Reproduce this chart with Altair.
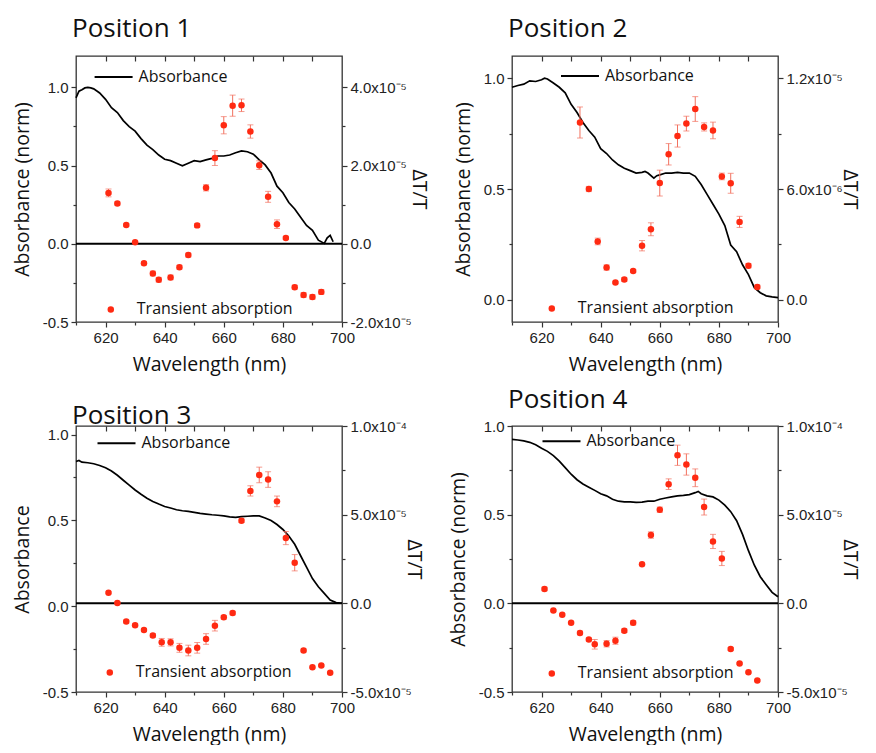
import json
import altair as alt
import pandas as pd

# ---------------- data ----------------
titles = ["Position 1", "Position 2", "Position 3", "Position 4"]
left_titles = ["Absorbance (norm)", "Absorbance (norm)", "Absorbance", "Absorbance (norm)"]
abs_name = "Absorbance"
ta_name = "Transient absorption"

# Absorbance curves (normalised)
p1_abs_wl = [610, 611, 612, 613, 614, 615, 616, 618, 620, 622, 624, 626, 628, 630, 632, 634, 636, 638, 640,
             642, 644, 646, 648, 650, 652, 654, 656, 658, 660, 662, 664, 666, 668, 670, 672, 674, 676, 678,
             680, 682, 684, 686, 688, 690, 692, 694, 695, 696, 697]
p1_abs = [0.933, 0.975, 0.985, 0.996, 1.0, 0.996, 0.99, 0.964, 0.923, 0.87, 0.839, 0.787, 0.749, 0.72, 0.672,
          0.63, 0.602, 0.567, 0.54, 0.531, 0.515, 0.498, 0.515, 0.531, 0.525, 0.536, 0.546, 0.561, 0.561,
          0.567, 0.582, 0.594, 0.588, 0.573, 0.536, 0.504, 0.452, 0.368, 0.326, 0.264, 0.222, 0.169, 0.117,
          0.086, 0.023, 0.002, 0.038, 0.054, 0.013]

p2_abs_wl = [610, 612, 614, 616, 618, 620, 621, 622, 624, 626, 628, 630, 632, 634, 636, 638, 640, 642, 644,
             646, 648, 650, 652, 654, 655, 656, 658, 659, 660, 662, 664, 666, 668, 670, 672, 674, 676, 678,
             680, 682, 684, 686, 688, 690, 692, 694, 696, 698, 700]
p2_abs = [0.959, 0.967, 0.973, 0.988, 0.985, 0.993, 1.0, 0.996, 0.978, 0.959, 0.934, 0.882, 0.845, 0.80,
          0.764, 0.734, 0.682, 0.66, 0.631, 0.609, 0.594, 0.583, 0.572, 0.575, 0.579, 0.572, 0.549, 0.56,
          0.564, 0.572, 0.572, 0.575, 0.572, 0.572, 0.557, 0.52, 0.476, 0.431, 0.387, 0.335, 0.247, 0.217,
          0.158, 0.114, 0.055, 0.032, 0.018, 0.013, 0.01]

p3_abs_wl = [610, 611, 612, 614, 616, 618, 620, 622, 624, 626, 628, 630, 632, 634, 636, 638, 640, 642, 644,
             646, 648, 650, 652, 654, 656, 658, 660, 662, 664, 666, 668, 670, 672, 674, 676, 678, 680, 682,
             684, 686, 688, 690, 692, 694, 696, 698, 700]
p3_abs = [0.843, 0.849, 0.839, 0.836, 0.830, 0.82, 0.807, 0.788, 0.763, 0.734, 0.706, 0.677, 0.652, 0.629,
          0.61, 0.595, 0.581, 0.572, 0.562, 0.556, 0.553, 0.547, 0.541, 0.537, 0.533, 0.53, 0.526, 0.52,
          0.518, 0.522, 0.524, 0.526, 0.526, 0.514, 0.499, 0.476, 0.447, 0.409, 0.361, 0.294, 0.228, 0.161,
          0.113, 0.075, 0.036, 0.021, 0.017]

p4_abs_wl = [610, 612, 614, 616, 618, 620, 622, 624, 626, 628, 630, 632, 634, 636, 638, 640, 642, 644, 646,
             648, 650, 652, 654, 656, 658, 660, 662, 664, 666, 668, 670, 672, 673, 674, 676, 678, 680, 682,
             684, 686, 688, 690, 692, 694, 696, 698, 700]
p4_abs = [0.925, 0.921, 0.916, 0.908, 0.894, 0.875, 0.857, 0.833, 0.802, 0.765, 0.728, 0.697, 0.673, 0.655,
          0.637, 0.618, 0.606, 0.587, 0.576, 0.572, 0.572, 0.569, 0.571, 0.576, 0.576, 0.587, 0.594, 0.6,
          0.606, 0.609, 0.613, 0.624, 0.631, 0.618, 0.606, 0.6, 0.582, 0.554, 0.517, 0.466, 0.389, 0.297,
          0.215, 0.150, 0.105, 0.062, 0.037]

# Transient absorption, dT/T in units of 1e-5, with error
p1_ta_wl = [621, 624, 627, 630, 633, 636, 638, 642, 645, 648, 651, 654, 657, 660, 663, 666, 669, 672, 675,
            678, 681, 684, 687, 690, 693]
p1_ta = [1.30, 1.03, 0.48, 0.04, -0.50, -0.76, -0.92, -0.86, -0.60, -0.29, 0.47, 1.43, 2.19, 3.03, 3.53,
         3.54, 2.87, 2.01, 1.20, 0.50, 0.15, -1.11, -1.31, -1.36, -1.23]
p1_err = [0.10, 0.04, 0.03, 0.02, 0.04, 0.06, 0.06, 0.06, 0.05, 0.05, 0.05, 0.08, 0.19, 0.22, 0.27, 0.16,
          0.17, 0.11, 0.14, 0.11, 0.04, 0.05, 0.06, 0.06, 0.06]

p2_ta_wl = [633, 636, 639, 642, 645, 648, 651, 654, 657, 660, 663, 666, 669, 672, 675, 678, 681, 684, 687,
            690, 693]
p2_ta = [0.96, 0.60, 0.316, 0.175, 0.094, 0.110, 0.156, 0.293, 0.382, 0.632, 0.788, 0.887, 0.954, 1.033,
         0.936, 0.917, 0.668, 0.631, 0.422, 0.185, 0.070]
p2_err = [0.084, 0.014, 0.018, 0.014, 0.006, 0.01, 0.008, 0.028, 0.035, 0.07, 0.058, 0.06, 0.04, 0.067,
          0.022, 0.045, 0.018, 0.054, 0.03, 0.012, 0.01]

p3_ta_wl = [621, 624, 627, 630, 633, 636, 639, 642, 645, 648, 651, 654, 657, 660, 663, 666, 669, 672, 675,
            678, 681, 684, 687, 690, 693, 696]
p3_ta = [0.60, 0.02, -1.03, -1.24, -1.50, -1.81, -2.20, -2.20, -2.51, -2.66, -2.51, -2.01, -1.26, -0.79,
         -0.55, 4.66, 6.34, 7.24, 6.98, 5.75, 3.68, 2.29, -2.66, -3.60, -3.51, -3.92]
p3_err = [0.05, 0.05, 0.08, 0.08, 0.08, 0.1, 0.22, 0.2, 0.25, 0.3, 0.3, 0.3, 0.3, 0.1, 0.1, 0.1, 0.29, 0.44,
          0.44, 0.3, 0.37, 0.46, 0.08, 0.05, 0.05, 0.05]

p4_ta_wl = [621, 624, 627, 630, 633, 636, 638, 642, 645, 648, 651, 654, 657, 660, 663, 666, 669, 672, 675,
            678, 681, 684, 687, 690, 693]
p4_ta = [0.81, -0.40, -0.64, -1.10, -1.67, -2.04, -2.31, -2.28, -2.11, -1.54, -1.10, 2.20, 3.85, 5.28, 6.72,
         8.35, 7.83, 7.08, 5.43, 3.49, 2.53, -2.57, -3.39, -3.89, -4.35]
p4_err = [0.1, 0.05, 0.05, 0.05, 0.1, 0.08, 0.27, 0.18, 0.2, 0.1, 0.12, 0.05, 0.18, 0.15, 0.3, 0.57, 0.6, 0.5,
          0.45, 0.4, 0.4, 0.08, 0.05, 0.05, 0.05]

abs_wl = [p1_abs_wl, p2_abs_wl, p3_abs_wl, p4_abs_wl]
abs_val = [p1_abs, p2_abs, p3_abs, p4_abs]
ta_wl = [p1_ta_wl, p2_ta_wl, p3_ta_wl, p4_ta_wl]
ta_val = [p1_ta, p2_ta, p3_ta, p4_ta]
ta_err = [p1_err, p2_err, p3_err, p4_err]
zero_line = [True, False, True, True]

# axes
x_domain = [610, 700]
x_major = [620, 640, 660, 680, 700]
x_minor = [610, 630, 650, 670, 690]
x_top = [620, 630, 640, 650, 660, 670, 680, 690]

left_domains = [[-0.5, 1.2], [-0.1, 1.1], [-0.5, 1.05], [-0.5, 1.0]]
left_major = [[-0.5, 0, 0.5, 1.0], [0, 0.5, 1.0], [-0.5, 0, 0.5, 1.0], [-0.5, 0, 0.5, 1.0]]
left_labels = [["-0.5", "0.0", "0.5", "1.0"], ["0.0", "0.5", "1.0"],
               ["-0.5", "0.0", "0.5", "1.0"], ["-0.5", "0.0", "0.5", "1.0"]]
left_minor = [[-0.25, 0.25, 0.75], [0.25, 0.75], [-0.25, 0.25, 0.75], [-0.25, 0.25, 0.75]]

right_domains = [[-2.0, 4.8], [-0.12, 1.32], [-5.0, 10.0], [-5.0, 10.0]]
right_major = [[-2, 0, 2, 4], [0, 0.6, 1.2], [-5, 0, 5, 10], [-5, 0, 5, 10]]
right_labels = [["-2.0x10⁻⁵", "0.0", "2.0x10⁻⁵", "4.0x10⁻⁵"],
                ["0.0", "6.0x10⁻⁶", "1.2x10⁻⁵"],
                ["-5.0x10⁻⁵", "0.0", "5.0x10⁻⁵", "1.0x10⁻⁴"],
                ["-5.0x10⁻⁵", "0.0", "5.0x10⁻⁵", "1.0x10⁻⁴"]]
right_minor = [[-1, 1, 3], [0.3, 0.9], [-2.5, 2.5, 7.5], [-2.5, 2.5, 7.5]]
right_title_pad = [-3, -3, -8, -8]

# legend placement (relative to each plot area)
line_leg_xy = [(17.6, 1.1), (48, 0.1), (20.5, -2.8), (29.5, -4.8)]
dot_leg_xy = [(26.8, 245.4), (31.8, 244.4), (25.8, 238.4), (31.8, 239.4)]
title_offsets = [-8, -8, -31, -15]

RED = "#ff2a12"
ERR = "#f2715f"
W = 266
H = 266


def label_expr(vals, labels):
    expr = "''"
    for v, l in reversed(list(zip(vals, labels))):
        expr = f"datum.value == {v} ? '{l}' : ({expr})"
    return expr


def major_test(vals):
    return f"indexof({json.dumps(vals)}, datum.value) < 0"


def tick_size(vals, major=5, minor=3):
    return {"condition": {"test": major_test(vals), "value": minor}, "value": major}


def panel(i):
    a_df = pd.DataFrame({"wl": abs_wl[i], "a": abs_val[i], "s": abs_name})
    t_df = pd.DataFrame({"wl": ta_wl[i], "t": ta_val[i], "e": ta_err[i], "s": ta_name})
    t_df["lo"] = t_df["t"] - t_df["e"]
    t_df["hi"] = t_df["t"] + t_df["e"]

    xs = alt.Scale(domain=x_domain, nice=False, zero=False)
    ls = alt.Scale(domain=left_domains[i], nice=False, zero=False)
    rs = alt.Scale(domain=right_domains[i], nice=False, zero=False)

    bottom_axis = alt.Axis(
        orient="bottom", values=x_major + x_minor,
        labelExpr=label_expr(x_major, [str(v) for v in x_major]),
        tickSize=tick_size(x_major), title="Wavelength (nm)", titlePadding=10, labelPadding=3,
    )
    top_axis = alt.Axis(orient="top", values=x_top, labels=False, tickSize=5, offset=-5, title=None,
                        domain=False, minExtent=0, maxExtent=0)
    left_axis = alt.Axis(
        orient="left", values=left_major[i] + left_minor[i],
        labelExpr=label_expr(left_major[i], left_labels[i]),
        tickSize=tick_size(left_major[i]), title=left_titles[i], titlePadding=10, labelPadding=3,
    )
    right_axis = alt.Axis(
        orient="right", values=right_major[i] + right_minor[i],
        labelExpr=label_expr(right_major[i], right_labels[i]),
        tickSize=tick_size(right_major[i]), title="ΔT/T", titlePadding=right_title_pad[i], labelPadding=3,
    )

    line = alt.Chart(a_df).mark_line(strokeWidth=1.7).encode(
        x=alt.X("wl:Q", scale=xs, axis=bottom_axis),
        y=alt.Y("a:Q", scale=ls, axis=left_axis),
        color=alt.Color("s:N", scale=alt.Scale(range=["black"]),
                        legend=alt.Legend(title=None, orient="none", legendX=line_leg_xy[i][0],
                                          legendY=line_leg_xy[i][1], symbolType="stroke",
                                          symbolSize=1444, symbolStrokeWidth=2, labelOffset=5)),
    )
    bars = alt.Chart(t_df).mark_rule(color=ERR, strokeWidth=1).encode(
        x=alt.X("wl:Q", scale=xs, axis=top_axis),
        y=alt.Y("lo:Q", scale=rs, axis=None),
        y2="hi:Q",
    )
    cap_hi = alt.Chart(t_df).mark_tick(color=ERR, orient="horizontal", size=6, thickness=1).encode(
        x=alt.X("wl:Q", scale=xs, axis=None),
        y=alt.Y("hi:Q", scale=rs, axis=None),
    )
    cap_lo = alt.Chart(t_df).mark_tick(color=ERR, orient="horizontal", size=6, thickness=1).encode(
        x=alt.X("wl:Q", scale=xs, axis=None),
        y=alt.Y("lo:Q", scale=rs, axis=None),
    )
    pts = alt.Chart(t_df).mark_circle(size=42, opacity=1).encode(
        x=alt.X("wl:Q", scale=xs, axis=None),
        y=alt.Y("t:Q", scale=rs, axis=right_axis),
        fill=alt.Fill("s:N", scale=alt.Scale(range=[RED]),
                      legend=alt.Legend(title=None, orient="none", legendX=dot_leg_xy[i][0],
                                        legendY=dot_leg_xy[i][1], symbolType="circle",
                                        symbolSize=42, symbolStrokeWidth=0, labelOffset=18)),
    )
    layers = []
    if zero_line[i]:
        z_df = pd.DataFrame({"z": [0.0]})
        layers.append(alt.Chart(z_df).mark_rule(color="black", strokeWidth=2).encode(
            y=alt.Y("z:Q", scale=rs, axis=None)))
    layers += [line, bars, cap_hi, cap_lo, pts]
    return alt.layer(*layers).resolve_scale(y="independent").resolve_axis(
        x="independent", y="independent"
    ).properties(
        width=W, height=H,
        title=alt.Title(titles[i], anchor="start", frame="group", dx=-4, offset=title_offsets[i],
                        baseline="alphabetic"),
    )


chart = alt.concat(
    panel(0), panel(1), panel(2), panel(3), columns=2, spacing={"row": 104, "column": 170}
).properties(
    bounds="flush", padding={"left": 3, "top": 7, "right": 3, "bottom": 0}, background="white"
).resolve_scale(
    x="independent", y="independent", color="independent", fill="independent"
).resolve_legend(
    color="independent", fill="independent"
).resolve_axis(
    x="independent", y="independent"
).configure_view(
    stroke="#333", strokeWidth=1.3
).configure_axis(
    labelFont="Liberation Sans", labelFontSize=15, labelColor="#222",
    titleFont="Open Sans", titleFontSize=19.5, titleFontWeight="normal", titleColor="#111",
    tickColor="#333", tickWidth=1.2, domain=False, grid=False, labelFlush=False, labelOverlap=False,
    minExtent=0,
).configure_legend(
    padding=0, labelFont="Open Sans", labelFontSize=16, labelColor="#111",
).configure_title(
    font="Open Sans", fontSize=26, fontWeight="normal", color="#111",
)

chart.save("out.html", embed_options={"renderer": "svg", "actions": False})
